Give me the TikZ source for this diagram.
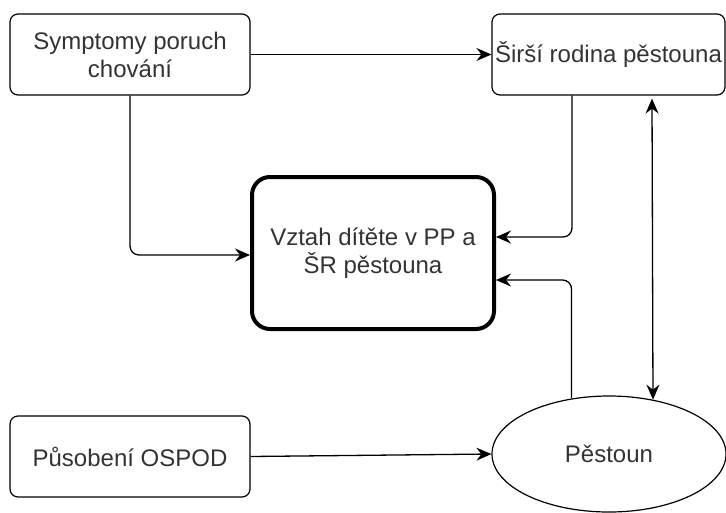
\documentclass[tikz,border=0pt]{standalone}
\usepackage{fontspec}
\setmainfont{Liberation Sans}
\usepackage{tikz}
\usetikzlibrary{arrows.meta, shapes.geometric}

\definecolor{txtgray}{HTML}{333333}

\begin{document}
\begin{tikzpicture}[x=1pt, y=-1pt,
    every node/.style={font=\fontsize{24}{28}\selectfont, text=txtgray, align=center},
    factor/.style={draw, rounded corners=8pt, line width=1.2pt, minimum width=240pt, minimum height=81pt, inner sep=0pt},
    core/.style={draw, rounded corners=18pt, line width=4pt, minimum width=242pt, minimum height=152pt, inner sep=0pt},
    person/.style={draw, ellipse, line width=1.2pt, minimum width=234pt, minimum height=116pt, inner sep=0pt},
    link/.style={line width=1.3pt, rounded corners=9pt, -{Stealth[length=15pt, width=13pt, inset=5pt]}}]
  \useasboundingbox (0,0) rectangle (726,512);
  \clip (0,0) rectangle (726,512);
  % nodes
  \node[factor] (symp) at (130,54.5) {Symptomy poruch\\chování};
  \node[factor, minimum width=233pt] (rodina) at (608.5,54.5) {Širší rodina pěstouna};
  \node[core] (vztah) at (373,253) {Vztah dítěte v PP a\\ŠR pěstouna};
  \node[factor] (ospod) at (130,456.5) {Působení OSPOD};
  \node[person] (pst) at (609,454) {Pěstoun};
  % connectors
  \draw[link] (symp.east) -- (rodina.west);
  \draw[link] (symp.south) |- ([yshift=-2pt]vztah.west);
  \draw[link] ([xshift=-36.5pt]rodina.south) |- ([yshift=16pt]vztah.east);
  \draw[link] (pst.124) |- ([yshift=-27pt]vztah.east);
  \draw[link, {Stealth[length=15pt, width=13pt, inset=5pt]}-{Stealth[length=15pt, width=13pt, inset=5pt]}] ([xshift=43.5pt, yshift=-3pt]rodina.south) -- (pst.51.5);
  \draw[link] (ospod.east) -- (pst.west);
\end{tikzpicture}
\end{document}
